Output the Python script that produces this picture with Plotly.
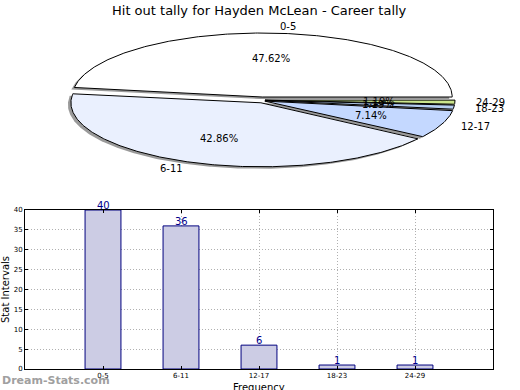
import numpy as np
import plotly.graph_objects as go

# ---- data ----
categories = ["0-5", "6-11", "12-17", "18-23", "24-29"]
counts = [40, 36, 6, 1, 1]
slice_colors = ["#FFFFFF", "#EAF0FE", "#C4D8FF", "#B6CEF2", "#CBE58C"]
title_text = "Hit out tally for Hayden McLean - Career tally"
y_ticks = [0, 5, 10, 15, 20, 25, 30, 35, 40]

W, H = 520, 390
FONT = "DejaVu Sans"

fig = go.Figure()

# ---- pie drawn on a pixel-scaled axis (x2/y2) ----
PIE_TOP_PX = 195  # pie axes cover y pixels 0..195
cx, cy = 262.0, 100.0
rx, ry = 190.0, 64.0
explode = 3.0
total = float(sum(counts))
fracs = [c / total for c in counts]


def wedge(a0, a1, ox, oy):
    t = np.radians(np.linspace(a0, a1, max(8, int(abs(a1 - a0) * 2))))
    xs = np.concatenate([[cx + ox], cx + ox + rx * np.cos(t), [cx + ox]])
    ys = np.concatenate([[cy + oy], cy + oy - ry * np.sin(t), [cy + oy]])
    return xs, ys


starts = np.concatenate([[0.0], np.cumsum(fracs)[:-1]]) * 360.0
ends = np.cumsum(fracs) * 360.0
mids = (starts + ends) / 2.0
offs = [(explode * np.cos(np.radians(m)), -explode * np.sin(np.radians(m))) for m in mids]

# shadows
for a0, a1, (ox, oy) in zip(starts, ends, offs):
    xs, ys = wedge(a0, a1, ox - 3, oy + 2)
    fig.add_trace(go.Scatter(x=xs, y=ys, xaxis="x2", yaxis="y2", mode="lines",
                             fill="toself", fillcolor="rgba(120,120,120,0.75)",
                             line=dict(width=0), hoverinfo="skip", showlegend=False))
# slices
for a0, a1, (ox, oy), col in zip(starts, ends, offs, slice_colors):
    xs, ys = wedge(a0, a1, ox, oy)
    fig.add_trace(go.Scatter(x=xs, y=ys, xaxis="x2", yaxis="y2", mode="lines",
                             fill="toself", fillcolor=col,
                             line=dict(color="#000000", width=1), hoverinfo="skip",
                             showlegend=False))

annotations = []
for m, (ox, oy), cat, fr in zip(mids, offs, categories, fracs):
    c, s = np.cos(np.radians(m)), np.sin(np.radians(m))
    # percentage
    annotations.append(dict(x=cx + ox + 0.6 * rx * c, y=cy + oy - 0.6 * ry * s,
                            xref="x2", yref="y2", text=f"{fr*100:.2f}%", showarrow=False,
                            xanchor="center", yanchor="middle",
                            font=dict(family=FONT, size=10, color="#000000")))
    # category label
    annotations.append(dict(x=cx + ox + 1.1 * rx * c, y=cy + oy - 1.1 * ry * s,
                            xref="x2", yref="y2", text=cat, showarrow=False,
                            xanchor="left" if c > 0 else "right", yanchor="middle",
                            font=dict(family=FONT, size=10, color="#000000")))

# ---- bar chart ----
xpos = list(range(1, len(categories) + 1))
fig.add_trace(go.Bar(x=xpos, y=counts, width=0.46,
                     marker=dict(color="#CCCCE4", line=dict(color="#00007F", width=1)),
                     hoverinfo="skip", showlegend=False))
for xp, v in zip(xpos, counts):
    annotations.append(dict(x=xp, y=v, xref="x", yref="y", text=str(v), showarrow=False,
                            xanchor="center", yanchor="bottom", yshift=-3,
                            font=dict(family=FONT, size=10, color="#00008B")))

L, R, T, B = 25, 493, 210, 369
fig.update_layout(
    width=W, height=H,
    margin=dict(l=0, r=0, t=0, b=0),
    paper_bgcolor="#FFFFFF", plot_bgcolor="#FFFFFF",
    font=dict(family=FONT, size=7, color="#000000"),
    xaxis=dict(domain=[L / W, R / W], range=[0, len(categories) + 1],
               tickmode="array", tickvals=xpos, ticktext=categories,
               showgrid=True, gridcolor="#B0B0B0", griddash="1px,2px", gridwidth=1,
               showline=True, linecolor="#000000", linewidth=1, mirror="ticks",
               ticks="inside", ticklen=3, tickcolor="#000000",
               tickfont=dict(family=FONT, size=7), zeroline=False, automargin=False),
    yaxis=dict(domain=[(H - B) / H, (H - T) / H], range=[0, 40],
               tickmode="array", tickvals=y_ticks,
               showgrid=True, gridcolor="#B0B0B0", griddash="1px,2px", gridwidth=1,
               showline=True, linecolor="#000000", linewidth=1, mirror="ticks",
               ticks="inside", ticklen=3, tickcolor="#000000",
               tickfont=dict(family=FONT, size=7), zeroline=False, automargin=False),
    xaxis2=dict(domain=[0, 1], range=[0, W], visible=False, fixedrange=True),
    yaxis2=dict(domain=[(H - PIE_TOP_PX) / H, 1], range=[PIE_TOP_PX, 0], visible=False,
                fixedrange=True),
)

annotations += [
    dict(x=259 / W, y=1 - 10 / H, xref="paper", yref="paper", text=title_text,
         showarrow=False, xanchor="center", yanchor="middle",
         font=dict(family=FONT, size=13, color="#000000")),
    dict(x=5 / W, y=1 - 290 / H, xref="paper", yref="paper", text="Stat Intervals",
         showarrow=False, textangle=-90, xanchor="center", yanchor="middle",
         font=dict(family=FONT, size=10, color="#000000")),
    dict(x=259 / W, y=1 - 387 / H, xref="paper", yref="paper", text="Frequency",
         showarrow=False, xanchor="center", yanchor="middle",
         font=dict(family=FONT, size=10, color="#000000")),
    dict(x=0, y=1 - 380 / H, xref="paper", yref="paper", text="<b>Dream-Stats.com</b>",
         showarrow=False, xanchor="left", yanchor="middle",
         font=dict(family=FONT, size=11, color="#A0A0A0")),
]
fig.update_layout(annotations=annotations)

fig.write_html("out.html", config={"displayModeBar": False},
               post_script="document.body.style.margin='0';document.body.style.overflow='hidden';")
